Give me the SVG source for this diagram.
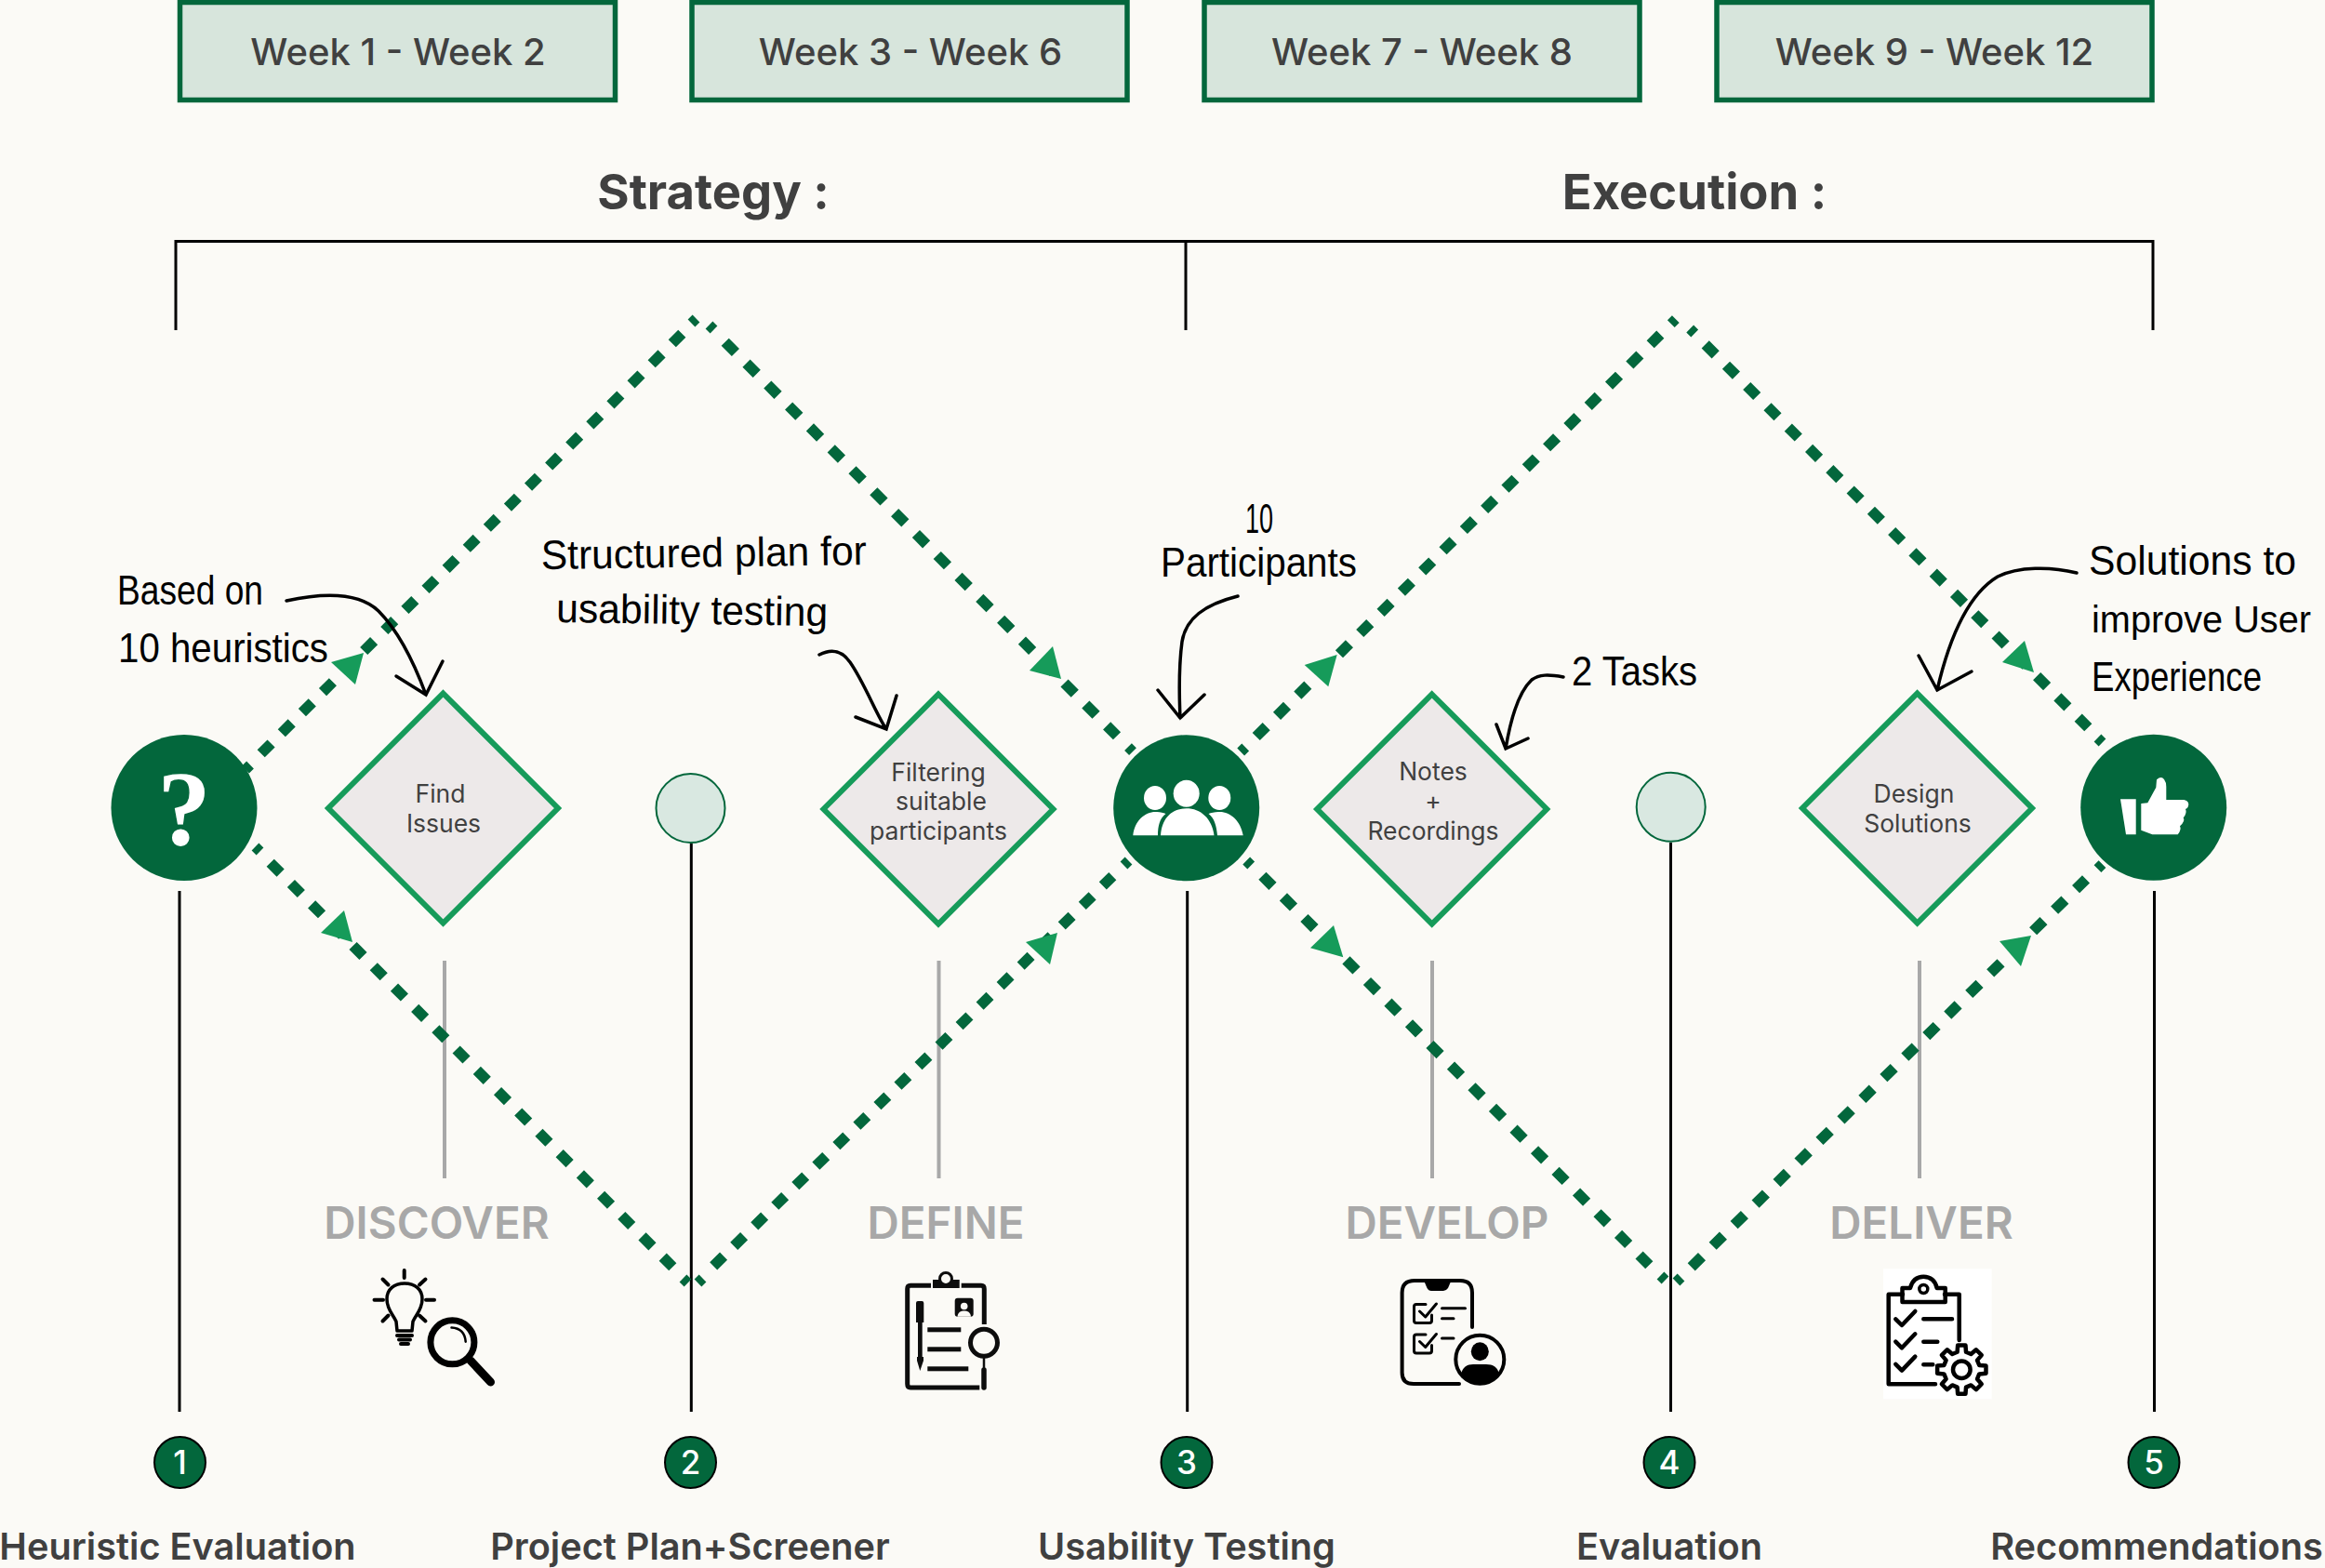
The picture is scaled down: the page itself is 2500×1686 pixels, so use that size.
<svg xmlns="http://www.w3.org/2000/svg" width="2500" height="1686" viewBox="0 0 2500 1686">
<style>
.t{font-family:Inter,"Liberation Sans",sans-serif;fill:#404040;text-anchor:middle}
.week{font-size:40px;font-weight:500}
.head{font-size:52.500px;font-weight:700}
.dia{font-size:26.500px;font-weight:400}
.phase{font-size:47.500px;font-weight:600;fill:#a8a8a8}
.num{font-size:35px;font-weight:500;fill:#fff}
.bot{font-size:39.700px;font-weight:600}
.hand{font-family:"Liberation Sans Narrow","Liberation Sans",sans-serif;font-size:44px;fill:#000}
.box{fill:#d7e5dc;stroke:#03673c;stroke-width:5.500}
.d{fill:#ede9e9;stroke:#169b5a;stroke-width:6}
.big{fill:#03673c}
.sm{fill:#d9e8e1;stroke:#03673c;stroke-width:2}
.numc{fill:#03673c;stroke:#000;stroke-width:2}
.dash{fill:none;stroke:#03673c;stroke-width:11.500;stroke-dasharray:15.500 16}
.end{fill:none;stroke:#03673c;stroke-width:11}
.tri{fill:#169b5a}
.blk{fill:none;stroke:#000;stroke-width:3}
.gry{fill:none;stroke:#a8a8a8;stroke-width:4}
.arr{fill:none;stroke:#000;stroke-width:3.500;stroke-linecap:round;stroke-linejoin:miter}
.ic{fill:none;stroke:#000;stroke-width:4;stroke-linecap:round;stroke-linejoin:round}
.icf{fill:#000}
.w{fill:#fff}
.b{fill:#0d0d0d}
</style>
<rect width="2500" height="1686" fill="#fbfaf6"/>

<g id="week-1"><rect class="box" x="193.500" y="2.500" width="468" height="105"/><text class="t week" x="428" y="70">Week 1 - Week 2</text></g>
<g id="week-2"><rect class="box" x="744" y="2.500" width="468" height="105"/><text class="t week" x="979" y="70">Week 3 - Week 6</text></g>
<g id="week-3"><rect class="box" x="1295" y="2.500" width="468" height="105"/><text class="t week" x="1529" y="70">Week 7 - Week 8</text></g>
<g id="week-4"><rect class="box" x="1846" y="2.500" width="468" height="105"/><text class="t week" x="2080" y="70">Week 9 - Week 12</text></g>

<g id="title-strategy"><text class="t head" x="767" y="225">Strategy :</text></g>
<g id="title-execution"><text class="t head" x="1822" y="225">Execution :</text></g>

<g id="connectors">
<path class="blk" d="M189,355V259.500H2315V355M1275,259.500V355"/>
<path class="blk" d="M193,958V1518M743.300,907V1518M1276.700,958V1518M1796.500,906V1518M2316.500,958V1518"/>
<path class="gry" d="M478,1033V1267M1009.500,1033V1267M1540,1033V1267M2064,1033V1267"/>
<path class="dash" pathLength="645" d="M280.700,810.300L733.300,358.700"/>
<path class="dash" pathLength="613.500" d="M290.700,927.700L723.300,1362.300"/>
<path class="dash" pathLength="613.500" d="M767.200,1361.300L1196.300,942.200"/>
<path class="dash" pathLength="582" d="M779.700,367.700L1201,791.300"/>
<path class="dash" pathLength="613.500" d="M1350.700,792L1785.300,359.700"/>
<path class="dash" pathLength="582" d="M1833.700,370.400L2245.300,782.300"/>
<path class="dash" pathLength="582" d="M1357.400,941.700L1773.300,1360.300"/>
<path class="dash" pathLength="582" d="M1818.700,1362.300L2243,945.400"/>
<path class="end" d="M264,827.500L269,822.500M743.500,347.500L748.500,342.500M274.500,910.500L279.500,915.500M734.500,1374.500L739.500,1379.500M750.500,1379.500L755.500,1374.500M1208.500,930.500L1213.500,925.500M762.500,349.500L767.500,354.500M1213,803.200L1218,808.200M1334.200,808.500L1339.200,803.500M1796.800,348.200L1801.800,343.200M1817.200,353.500L1822.200,358.500M2255.500,793.500L2260.500,798.500M1340.200,925.500L1345.200,930.500M1785.500,1371.500L1790.500,1376.500M1802.500,1378.500L1807.500,1373.500M2255.500,934.200L2260.500,929.200"/>
<polygon class="tri" points="391,702 356,712 382,736"/>
<polygon class="tri" points="370,979 345,1003 379,1013"/>
<polygon class="tri" points="1132,695 1107,721 1141,730"/>
<polygon class="tri" points="1137,1003 1103,1013 1129,1037"/>
<polygon class="tri" points="1437.700,704 1402.700,715 1428.300,738.300"/>
<polygon class="tri" points="1434,995 1409,1019.300 1444.300,1029.300"/>
<polygon class="tri" points="2177,689 2153,712 2187,723"/>
<polygon class="tri" points="2184,1006 2150,1012 2173,1039"/>
<path class="arr" d="M308,646C345,638 385,636 407,657C432,682 448,720 458,747M426,727L458,747L476,711"/>
<path class="arr" d="M881,704C893,698 904,698 914,712C930,735 943,770 953,784M920,771L953,784L964,748"/>
<path class="arr" d="M1331,641C1295,650 1275,665 1271,690C1267,720 1268,750 1269,772M1245,742L1269,772L1295,747"/>
<path class="arr" d="M1681,728C1665,725 1655,725 1647,731C1632,745 1624,775 1619,805M1609,779L1619,805L1643,794"/>
<path class="arr" d="M2233,616C2205,609 2170,609 2148,620C2115,640 2095,690 2083,742M2063,705L2083,742L2120,722"/>
</g>

<g id="note-heuristics">
<text class="hand" x="126" y="650" textLength="157" lengthAdjust="spacingAndGlyphs">Based on</text>
<text class="hand" x="127" y="712" textLength="226" lengthAdjust="spacingAndGlyphs">10 heuristics</text>
</g>
<g id="note-plan">
<text class="hand" transform="rotate(-0.800 582 612)" x="582" y="612" textLength="350" lengthAdjust="spacingAndGlyphs">Structured plan for</text>
<text class="hand" transform="rotate(0.800 598 669)" x="598" y="669" textLength="292" lengthAdjust="spacingAndGlyphs">usability testing</text>
</g>
<g id="note-participants">
<text class="hand" x="1339" y="573" textLength="30" lengthAdjust="spacingAndGlyphs">10</text>
<text class="hand" x="1248" y="620" textLength="211" lengthAdjust="spacingAndGlyphs">Participants</text>
</g>
<g id="note-tasks"><text class="hand" x="1690" y="737" textLength="135" lengthAdjust="spacingAndGlyphs">2 Tasks</text></g>
<g id="note-solutions">
<text class="hand" x="2246" y="618" textLength="223" lengthAdjust="spacingAndGlyphs">Solutions to</text>
<text class="hand" style="font-size:41px" x="2249" y="680" textLength="236" lengthAdjust="spacingAndGlyphs">improve User</text>
<text class="hand" x="2249" y="743" textLength="183" lengthAdjust="spacingAndGlyphs">Experience</text>
</g>

<g id="node-start">
<circle class="big" cx="198" cy="868.500" r="78.500"/>
<text x="198" y="908" text-anchor="middle" style="font-family:'Liberation Serif',serif;font-weight:700;font-size:115px" fill="#fff">?</text>
</g>
<g id="node-find"><polygon class="d" points="476.500,745.500 600,869 476.500,992.500 353,869"/>
<text class="t dia" x="473.500" y="863">Find</text><text class="t dia" x="477" y="895">Issues</text></g>
<g id="node-plan"><circle class="sm" cx="742.500" cy="869" r="37"/></g>
<g id="node-filter"><polygon class="d" points="1009,746.500 1132.500,870 1009,993.500 885.500,870"/>
<text class="t dia" x="1009" y="840">Filtering</text><text class="t dia" x="1012" y="871">suitable</text><text class="t dia" x="1009" y="903">participants</text></g>
<g id="node-test">
<circle class="big" cx="1275.700" cy="868.700" r="78.500"/>
<ellipse class="w" cx="1275.700" cy="853.300" rx="14" ry="14.500"/>
<ellipse class="w" cx="1242" cy="858" rx="12" ry="13"/>
<ellipse class="w" cx="1311.300" cy="858" rx="12" ry="13"/>
<path class="w" d="M1248,898.300C1249,880 1260,869.300 1275.700,869.300C1291,869.300 1303,880 1305.500,898.300Z"/>
<path class="w" d="M1218.300,898.300C1220,882 1232,872 1244,873C1248,873 1251,874 1253.500,875C1247,880 1245,888 1245,898.300Z"/>
<path class="w" d="M1336.700,898.300C1334,882 1322,872 1310,873C1306,873 1302,874 1299.500,875C1306,880 1308,888 1309,898.300Z"/>
</g>
<g id="node-notes"><polygon class="d" points="1539.700,746.500 1663.200,870 1539.700,993.500 1416.200,870"/>
<text class="t dia" x="1541" y="839">Notes</text><text class="t dia" x="1541" y="871">+</text><text class="t dia" x="1541" y="903">Recordings</text></g>
<g id="node-eval"><circle class="sm" cx="1796.700" cy="867.800" r="37"/></g>
<g id="node-design"><polygon class="d" points="2061.600,745.500 2185,869 2061.600,992.500 1938,869"/>
<text class="t dia" x="2058" y="863">Design</text><text class="t dia" x="2062" y="895">Solutions</text></g>
<g id="node-end">
<circle class="big" cx="2315.700" cy="868.300" r="78.500"/>
<path class="w" d="M2280,859.300H2296.700V897.300H2286Z"/>
<path class="w" d="M2302.300,864L2309.300,863.300L2318.300,846.700L2319,838.300Q2324,834 2327,838Q2329.300,841 2329.300,846V860H2348.300Q2353.300,861 2353.300,865Q2353,869 2350,870Q2352,874 2347.700,879.300Q2350,883 2344,888.300Q2346,892 2341.700,897.300H2314.300L2302.300,892.700Z"/>
</g>

<g id="phase-discover"><text class="t phase" x="469.500" y="1332">DISCOVER</text>
<g id="icon-discover">
<path class="ic" style="stroke-width:3.500" d="M427,1431L426,1421C423,1414 416,1408 416,1397C416,1386 424,1380 435,1380C446,1380 454,1386 454,1397C454,1408 447,1414 444,1421L443,1431Z"/>
<path class="ic" d="M427,1436H443M429,1440.500H441M431,1445H439M434.700,1366V1374M411.500,1375.500L417.500,1381.500M457.500,1375.500L451,1381.500M402.500,1397.700H412M458,1397.700H467M411.500,1420.500L417.500,1414.500M457.500,1420.500L451,1414.500"/>
<circle class="ic" style="stroke-width:7" cx="486.400" cy="1443.300" r="23.500"/>
<path class="ic" style="stroke-width:2.500" d="M485.500,1427.500C495,1428 500,1434 500.700,1442.700"/>
<path class="ic" style="stroke-width:9" d="M506,1463L527.500,1486"/>
</g></g>

<g id="phase-define"><text class="t phase" x="1017" y="1332">DEFINE</text>
<g id="icon-define">
<path class="ic" style="stroke-width:5;stroke-linecap:butt;stroke:#0d0d0d" d="M1001,1382.300H979Q975.700,1382.300 975.700,1386V1488Q975.700,1492 979,1492H1053.300M1033.700,1382.300H1055Q1058.300,1382.300 1058.300,1386V1424"/>
<rect class="b" x="1003" y="1376" width="28.700" height="9"/>
<circle cx="1017" cy="1375" r="6.500" fill="#fbfaf6" stroke="#0d0d0d" stroke-width="3"/>
<rect class="b" x="1026.700" y="1395.700" width="20" height="20" rx="3"/>
<circle cx="1036.700" cy="1404.500" r="3.800" fill="#fbfaf6"/>
<path fill="#fbfaf6" d="M1029.500,1415.700C1030,1411 1033,1409.500 1036.700,1409.500C1040.500,1409.500 1043.500,1411 1044,1415.700Z"/>
<path class="b" d="M985,1401Q985,1399 987,1399H991.300Q993.300,1399 993.300,1401V1422H991.700V1459H993V1463L989.300,1474L986,1463V1459H987V1422H985Z"/>
<rect class="b" x="997.300" y="1427.300" width="36" height="5"/>
<rect class="b" x="997.300" y="1448.300" width="36" height="5"/>
<rect class="b" x="997.300" y="1469.300" width="44" height="5"/>
<circle cx="1058" cy="1443.700" r="14.500" fill="none" stroke="#0d0d0d" stroke-width="5"/>
<path fill="none" stroke="#0d0d0d" stroke-width="2.500" d="M1058,1460V1472"/>
<path fill="none" stroke="#0d0d0d" stroke-width="5.500" stroke-linecap="round" d="M1058,1473V1492"/>
</g></g>

<g id="phase-develop"><text class="t phase" x="1556" y="1332">DEVELOP</text>
<g id="icon-develop">
<path class="ic" d="M1583,1427V1390Q1583,1377 1570,1377H1521Q1507.600,1377 1507.600,1390V1476Q1507.600,1488 1520,1488H1569"/>
<path class="icf" d="M1531.500,1378H1560L1557,1385Q1555,1388 1552,1388H1539Q1536,1388 1534.500,1385Z"/>
<path class="ic" style="stroke-width:3" d="M1533,1402.500H1523Q1520.500,1402.500 1520.500,1405V1420Q1520.500,1422.500 1523,1422.500H1537Q1539.500,1422.500 1539.500,1420V1414M1526.500,1410L1532.700,1416L1544.400,1402M1550.500,1406.700H1575.500M1550.500,1417.700H1563"/>
<path class="ic" style="stroke-width:3" d="M1533,1435H1523Q1520.500,1435 1520.500,1437.500V1452.500Q1520.500,1455 1523,1455H1537Q1539.500,1455 1539.500,1452.500V1446.500M1526.500,1442.500L1532.700,1448.500L1544.400,1434.500M1550.500,1439H1563"/>
<circle class="ic" cx="1591.300" cy="1461.700" r="26"/>
<ellipse class="icf" cx="1591.300" cy="1453.300" rx="9.500" ry="10"/>
<path class="icf" d="M1571,1478C1572,1470 1578,1467 1584,1467H1598C1605,1467 1611,1470 1612,1478C1608,1484 1600,1488 1591,1488C1582,1488 1574,1484 1571,1478Z"/>
</g></g>

<g id="phase-deliver"><text class="t phase" x="2066" y="1332">DELIVER</text>
<g id="icon-deliver">
<rect fill="#fff" x="2025" y="1364.300" width="116.700" height="140"/>
<g class="ic" style="stroke-width:4.500">
<path d="M2046,1391.700H2030.700V1488.300H2081M2091,1391.700H2106.700V1441"/>
<path d="M2045.500,1400V1385H2054C2056,1377 2061,1372.700 2068.300,1372.700C2075.500,1372.700 2081,1377 2082.700,1385H2091.700V1400Z"/>
<circle style="stroke-width:3.500" cx="2068.300" cy="1386" r="4.500"/>
<path d="M2038.300,1418.300L2045,1425L2059.300,1410M2038.300,1442.600L2045,1449.300L2059.300,1434.300M2038.300,1466.900L2045,1473.600L2059.300,1458.600M2068.300,1418.300H2099M2068.300,1442.700H2083.300M2068.300,1467.300H2078.300"/>
<path transform="translate(2109.300 1472.700)" d="M18.920,-4.720L26.170,-4.150L26.170,4.150L18.920,4.720L16.710,10.040L21.440,15.570L15.570,21.440L10.040,16.710L4.720,18.920L4.150,26.170L-4.150,26.170L-4.720,18.920L-10.040,16.710L-15.570,21.440L-21.440,15.570L-16.710,10.040L-18.920,4.720L-26.170,4.150L-26.170,-4.150L-18.920,-4.720L-16.710,-10.040L-21.440,-15.570L-15.570,-21.440L-10.040,-16.710L-4.720,-18.920L-4.150,-26.170L4.150,-26.170L4.720,-18.920L10.040,-16.710L15.570,-21.440L21.440,-15.570L16.710,-10.040Z"/>
<circle cx="2109.300" cy="1472.700" r="9.300"/>
</g>
</g></g>

<g id="step-1"><circle class="numc" cx="193.500" cy="1572.500" r="27.500"/><text class="t num" x="193.500" y="1585">1</text><text class="t bot" x="191" y="1676.500">Heuristic Evaluation</text></g>
<g id="step-2"><circle class="numc" cx="742.500" cy="1572.500" r="27.500"/><text class="t num" x="742.500" y="1585">2</text><text class="t bot" x="742" y="1676.500">Project Plan+Screener</text></g>
<g id="step-3"><circle class="numc" cx="1276" cy="1572.500" r="27.500"/><text class="t num" x="1276" y="1585">3</text><text class="t bot" x="1276" y="1676.500">Usability Testing</text></g>
<g id="step-4"><circle class="numc" cx="1795" cy="1572.500" r="27.500"/><text class="t num" x="1795" y="1585">4</text><text class="t bot" x="1795" y="1676.500">Evaluation</text></g>
<g id="step-5"><circle class="numc" cx="2316" cy="1572.500" r="27.500"/><text class="t num" x="2316" y="1585">5</text><text class="t bot" x="2319" y="1676.500">Recommendations</text></g>
</svg>
